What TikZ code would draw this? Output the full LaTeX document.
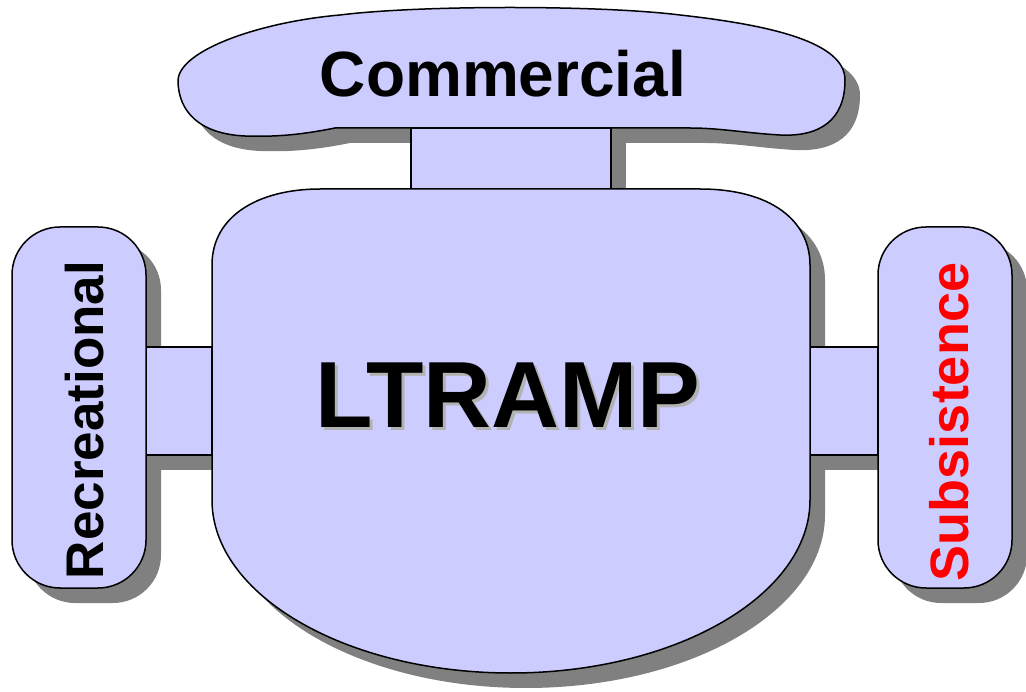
\documentclass[tikz,border=0pt]{standalone}
\usepackage{fontspec}
\setmainfont{Liberation Sans}
\usetikzlibrary{calc}
\definecolor{lavender}{RGB}{204,204,255}
\definecolor{shadowgray}{RGB}{128,128,128}
\definecolor{textgray}{RGB}{178,178,178}
\newcommand{\commercialpath}{(178,80) .. controls (180,50) and (260,22) .. (340,15) .. controls (420,5) and (600,5) .. (680,15) .. controls (770,25) and (845,42) .. (845,80) .. controls (845,120) and (820,137) .. (780,135) .. controls (745,133) and (720,128) .. (690,128) -- (335,128) .. controls (300,135) and (275,137) .. (245,136) .. controls (200,134) and (178,112) .. (178,80) -- cycle}
\newcommand{\bodypath}{(212,500) -- (212,265) .. controls (212,215) and (260,189) .. (320,189) -- (700,189) .. controls (770,189) and (810,220) .. (810,265) -- (810,500) .. controls (810,595) and (676,673) .. (511,673) .. controls (346,673) and (212,595) .. (212,500) -- cycle}
\newcommand{\recpath}{(12,227) rectangle (146,588)}
\newcommand{\subpath}{(878,227) rectangle (1012,588)}
\newcommand{\stempath}{(411,128) rectangle (611,190)}
\newcommand{\leftarmpath}{(146,347) rectangle (212,455)}
\newcommand{\rightarmpath}{(810,347) rectangle (878,455)}
\tikzset{
  part/.style={fill=lavender, draw=black, line width=1.5pt},
  partshadow/.style={fill=shadowgray, shift={(15,15)}},
  pill/.style={rounded corners=48pt},
  bigtext/.style={font=\fontsize{#1}{#1}\selectfont\bfseries}
}

\begin{document}
\begin{tikzpicture}[x=1pt, y=-1pt]
        \useasboundingbox (0,0) rectangle (1026,692);
        % shadows
        \fill[partshadow] \stempath;
        \fill[partshadow] \leftarmpath;
        \fill[partshadow] \rightarmpath;
        \fill[partshadow] \commercialpath;
        \fill[partshadow] \bodypath;
        \fill[partshadow, pill] \recpath;
        \fill[partshadow, pill] \subpath;

        % arms
        \draw[part] \stempath;
        \draw[part] \leftarmpath;
        \draw[part] \rightarmpath;

        % parts
        \draw[part] \commercialpath;
        \draw[part] \bodypath;
        \draw[part, pill] \recpath;
        \draw[part, pill] \subpath;

        % text
        \node[bigtext=64, anchor=base, inner sep=0pt] (commercial) at (503,97) {Commercial};
        \node[bigtext=94, anchor=base, inner sep=0pt, text=textgray] (ltrampshadow) at (511,431) {LTRAMP};
        \node[bigtext=94, anchor=base, inner sep=0pt] (ltramp) at (508,428) {LTRAMP};
        \node[bigtext=53, anchor=base, inner sep=0pt, rotate=90] (recreational) at (103,420) {Recreational};
        \node[bigtext=54, anchor=base, inner sep=0pt, rotate=90, text=red] (subsistence) at (968,422) {Subsistence};
    \end{tikzpicture}
\end{document}
